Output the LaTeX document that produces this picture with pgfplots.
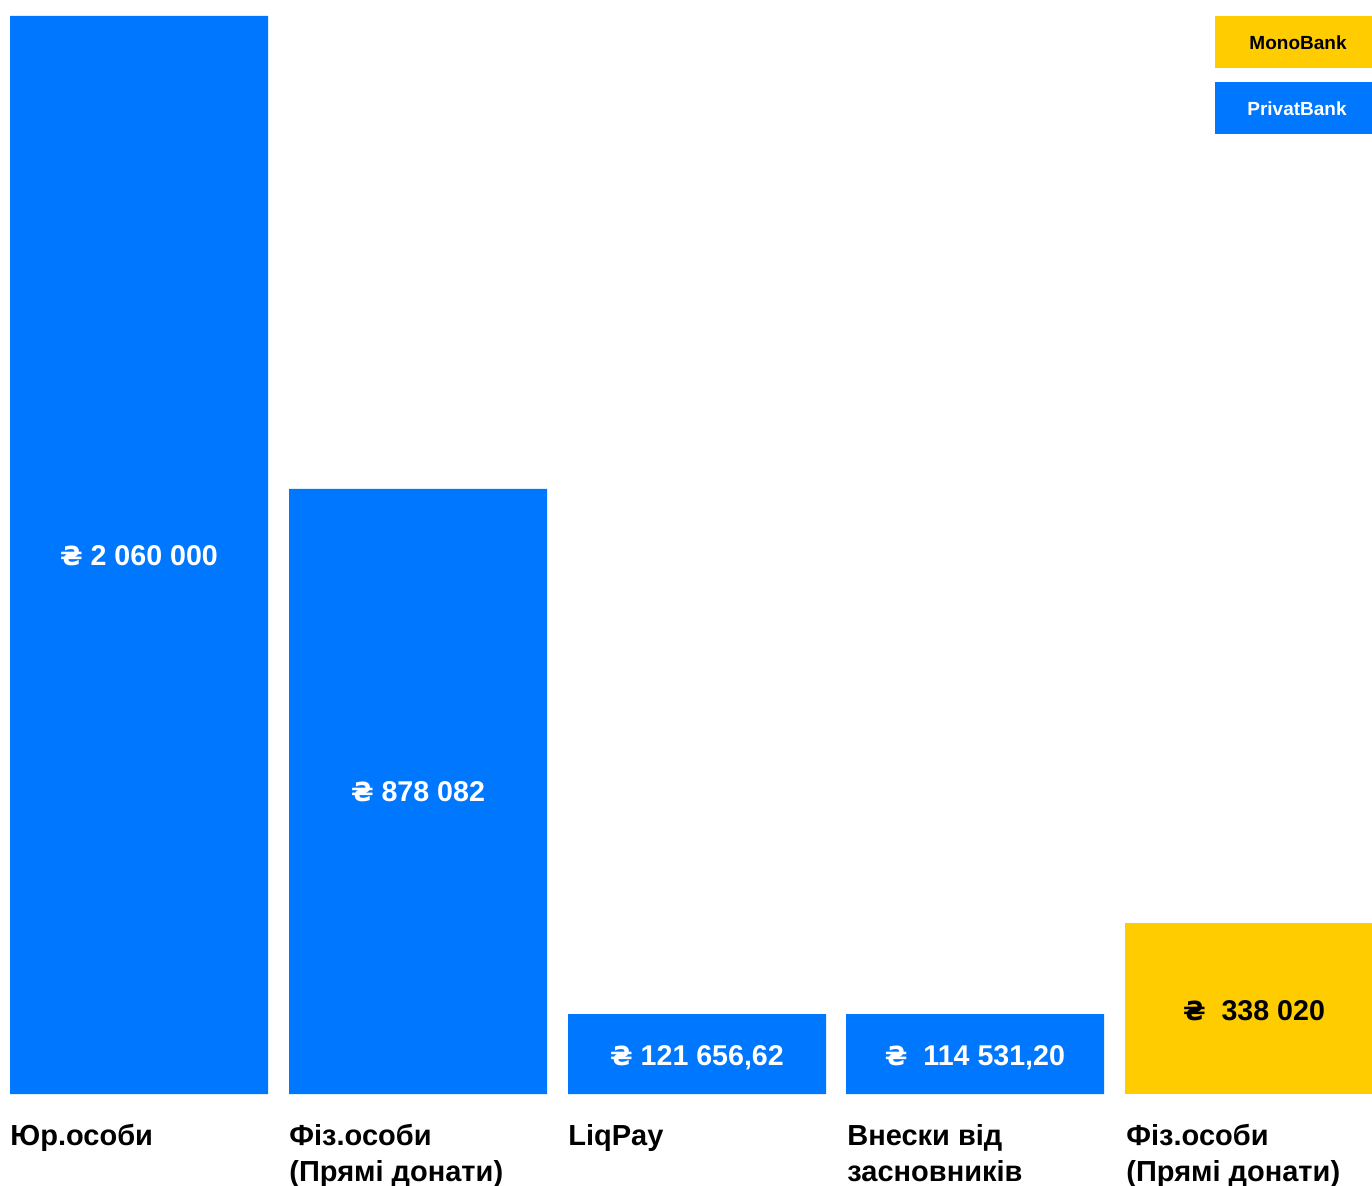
\documentclass[border=0pt]{standalone}
\usepackage{pgfplots}
\pgfplotsset{compat=1.18}
\usepackage{fontspec}
\setmainfont{Liberation Sans}
\newfontfamily\symfont[Scale=0.92]{DejaVu Sans}
\definecolor{pbblue}{HTML}{0077FF}
\definecolor{monoyellow}{HTML}{FFCC00}
\newcommand{\hr}{{\symfont\bfseries ₴}}
\begin{document}
\begin{tikzpicture}
\begin{axis}[
  hide axis, scale only axis,
  width=686pt, height=592.5pt,
  xmin=0, xmax=1372, ymin=-91, ymax=1094,
  anchor=south west, at={(0,0)},
]
% bar heights as drawn (px above baseline)
\addplot[ybar, bar width=258, bar shift=0pt, draw=none, fill=pbblue]
  coordinates {(139,1078) (418,605) (697,80) (975,80)};
\addplot[ybar, bar width=258, bar shift=0pt, draw=none, fill=monoyellow]
  coordinates {(1254,171)};
% legend boxes
\fill[monoyellow] (axis cs:1215,1026) rectangle (axis cs:1380,1078);
\fill[pbblue] (axis cs:1215,960) rectangle (axis cs:1380,1012);
\node[anchor=base, inner sep=0, font=\fontsize{9.5}{11}\selectfont\bfseries] at (axis cs:1298,1044) {MonoBank};
\node[anchor=base, inner sep=0, text=white, font=\fontsize{9.5}{11}\selectfont\bfseries] at (axis cs:1297,978) {PrivatBank};
% value labels
\tikzset{val/.style={anchor=base, inner sep=0, font=\fontsize{14.3}{17}\selectfont\bfseries}}
\node[val, text=white] at (axis cs:139,528) {\hr\ 2 060 000};
\node[val, text=white] at (axis cs:418,292) {\hr\ 878 082};
\node[val, text=white] at (axis cs:697,29) {\hr\ 121 656,62};
\node[val, text=white] at (axis cs:975,29) {\hr\ \ 114 531,20};
\node[val, text=black] at (axis cs:1254,74) {\hr\ \ 338 020};
% category labels
\tikzset{cat/.style={anchor=base west, inner sep=0, font=\fontsize{14.5}{17}\selectfont\bfseries}}
\node[cat] at (axis cs:10,-51) {Юр.особи};
\node[cat] at (axis cs:289,-51) {Фіз.особи};
\node[cat] at (axis cs:289,-87) {(Прямі донати)};
\node[cat] at (axis cs:568,-51) {LiqPay};
\node[cat] at (axis cs:847,-51) {Внески від};
\node[cat] at (axis cs:847,-87) {засновників};
\node[cat] at (axis cs:1126,-51) {Фіз.особи};
\node[cat] at (axis cs:1126,-87) {(Прямі донати)};
\end{axis}
\pgfresetboundingbox
\useasboundingbox (0,0) rectangle (686pt,592.5pt);
\end{tikzpicture}
\end{document}
